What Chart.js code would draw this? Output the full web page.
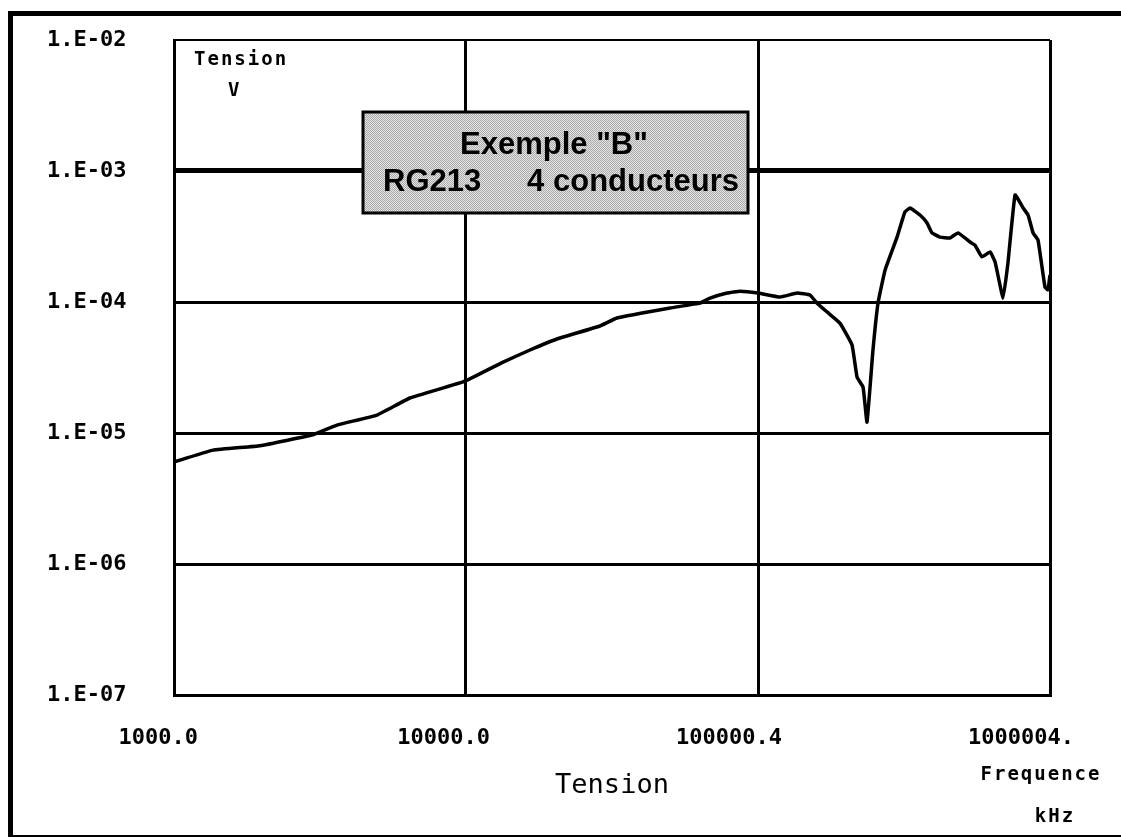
<!DOCTYPE html>
<html>
<head>
<meta charset="utf-8">
<title>Exemple B - RG213 4 conducteurs</title>
<script src="https://cdn.jsdelivr.net/npm/chart.js@4.4.1/dist/chart.umd.min.js"></script>
<style>
  html, body { margin: 0; padding: 0; background: #fff; }
  #wrap { position: relative; width: 1121px; height: 837px; }
</style>
</head>
<body>
<div id="wrap"><canvas id="tensionChart" width="1121" height="837"></canvas></div>
<script>
// Frequence (kHz) / Tension (V)
const freqKHz = [1000, 1361, 1970, 2992, 3614, 4955, 6427, 9930, 13400, 16560, 20490, 28770, 32890, 49990,
  63240, 68500, 78400, 86800, 100000, 118900, 136100, 150700, 159300, 172300, 190800, 209900, 218400,
  229000, 236200, 247600, 257600, 272300, 299400, 318500, 331700, 358900, 379300, 394400, 419800, 454600,
  484200, 532300, 553400, 584800, 623400, 648600, 690700, 717800, 759300, 809100, 841400, 875000, 909900,
  961000, 984000, 1000004];
const tensionV = [6.0e-6, 7.4e-6, 8.0e-6, 9.7e-6, 1.15e-5, 1.37e-5, 1.85e-5, 2.49e-5, 3.48e-5, 4.30e-5, 5.22e-5,
  6.56e-5, 7.55e-5, 9.0e-5, 9.8e-5, 1.07e-4, 1.17e-4, 1.21e-4, 1.17e-4, 1.09e-4, 1.17e-4, 1.13e-4, 9.8e-5,
  8.4e-5, 6.9e-5, 4.7e-5, 2.67e-5, 2.24e-5, 1.21e-5, 4.3e-5, 9.8e-5, 1.75e-4, 3.13e-4, 4.86e-4, 5.22e-4,
  4.61e-4, 4.01e-4, 3.37e-4, 3.13e-4, 3.08e-4, 3.37e-4, 2.87e-4, 2.72e-4, 2.21e-4, 2.41e-4, 2.02e-4,
  1.07e-4, 1.99e-4, 6.56e-4, 5.22e-4, 4.61e-4, 3.37e-4, 2.97e-4, 1.30e-4, 1.24e-4, 1.61e-4];

const xTickValues = [1000, 10000, 100000.4, 1000004];
const xTickLabels = ['1000.0', '10000.0', '100000.4', '1000004.'];
const yTickValues = [1e-7, 1e-6, 1e-5, 1e-4, 1e-3, 1e-2];
const yTickLabels = ['1.E-07', '1.E-06', '1.E-05', '1.E-04', '1.E-03', '1.E-02'];

const boxLines = ['Exemple "B"', 'RG213', '4 conducteurs'];

const MONO = "'DejaVu Sans Mono', monospace";
Chart.defaults.font.family = MONO;
Chart.defaults.color = '#000';

// outer frame, Y title and the gray label box
const extras = {
  id: 'extras',
  afterDraw(chart) {
    const ctx = chart.ctx;
    const area = chart.chartArea;
    ctx.save();
    ctx.strokeStyle = '#000';
    ctx.lineWidth = 5;
    ctx.beginPath();
    ctx.moveTo(10.5, 837);
    ctx.lineTo(10.5, 13.5);
    ctx.lineTo(1121, 13.5);
    ctx.stroke();
    ctx.lineWidth = 2;
    ctx.beginPath();
    ctx.moveTo(8, 836);
    ctx.lineTo(1121, 836);
    ctx.stroke();

    // Y title inside the plot
    ctx.fillStyle = '#000';
    ctx.font = 'bold 19px ' + MONO;
    ctx.letterSpacing = '2px';
    ctx.textBaseline = 'alphabetic';
    ctx.textAlign = 'left';
    ctx.fillText('Tension', area.left + 20, 65);
    ctx.fillText('V', area.left + 54, 96);

    // axis unit at right
    ctx.textAlign = 'center';
    ctx.fillText('Frequence', 1041, 780);
    ctx.fillText('kHz', 1055, 822);
    ctx.letterSpacing = '0px';

    // label box with stipple fill
    const bx = 363, by = 112, bw = 385, bh = 101;
    const pc = document.createElement('canvas');
    pc.width = 2; pc.height = 2;
    const p = pc.getContext('2d');
    p.fillStyle = '#e6e6e6'; p.fillRect(0, 0, 2, 2);
    p.fillStyle = '#a8a8a8'; p.fillRect(0, 0, 1, 1); p.fillRect(1, 1, 1, 1);
    ctx.fillStyle = ctx.createPattern(pc, 'repeat');
    ctx.fillRect(bx, by, bw, bh);
    ctx.lineWidth = 3;
    ctx.strokeStyle = '#000';
    ctx.strokeRect(bx, by, bw, bh);

    ctx.fillStyle = '#000';
    ctx.font = "bold 31px 'Liberation Sans', Arial, sans-serif";
    ctx.textAlign = 'center';
    ctx.fillText(boxLines[0], 554, 154);
    ctx.textAlign = 'left';
    ctx.fillText(boxLines[1], 383, 191);
    ctx.textAlign = 'right';
    ctx.fillText(boxLines[2], 739, 191);
    ctx.restore();
  }
};

new Chart(document.getElementById('tensionChart').getContext('2d'), {
  type: 'line',
  data: {
    datasets: [{
      label: 'Tension',
      data: freqKHz.map((f, i) => ({ x: f, y: tensionV[i] })),
      borderColor: '#000',
      borderWidth: 3.5,
      pointRadius: 0,
      tension: 0.1,
      fill: false
    }]
  },
  options: {
    responsive: false,
    animation: false,
    layout: { padding: { left: 47, top: 40, right: 71, bottom: 0 } },
    plugins: {
      legend: { display: false },
      tooltip: { enabled: false }
    },
    scales: {
      x: {
        type: 'logarithmic',
        min: 1000,
        max: 1000004,
        afterBuildTicks: s => { s.ticks = xTickValues.map(v => ({ value: v })); },
        afterFit: s => { s.height = 142; },
        grid: {
          color: '#000',
          lineWidth: 3,
          drawTicks: false
        },
        border: { display: true, color: '#000', width: 3 },
        ticks: {
          autoSkip: false,
          maxRotation: 0,
          align: 'end',
          labelOffset: 24,
          padding: 30,
          font: { size: 22, weight: 'bold' },
          callback: (v, i) => xTickLabels[i]
        },
        title: {
          display: true,
          text: 'Tension',
          font: { size: 27 },
          padding: 35
        }
      },
      y: {
        type: 'logarithmic',
        min: 1e-7,
        max: 1e-2,
        afterBuildTicks: s => { s.ticks = yTickValues.map(v => ({ value: v })); },
        afterFit: s => { s.width = 127; },
        grid: {
          color: '#000',
          lineWidth: c => (c.tick && c.tick.value === 1e-3 ? 5 : (c.tick && c.tick.value === 1e-2 ? 2 : 3)),
          drawTicks: false
        },
        border: { display: true, color: '#000', width: 3 },
        ticks: {
          autoSkip: false,
          crossAlign: 'far',
          padding: 2,
          font: { size: 22, weight: 'bold' },
          callback: (v, i) => yTickLabels[i]
        }
      }
    }
  },
  plugins: [extras]
});
</script>
</body>
</html>
